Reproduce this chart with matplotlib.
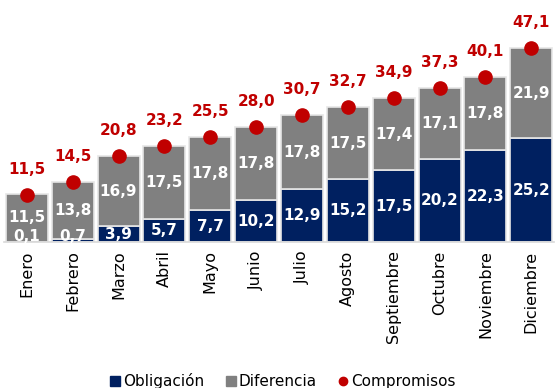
import matplotlib
matplotlib.use("Agg")
import matplotlib.pyplot as plt
from matplotlib.lines import Line2D

meses = ["Enero", "Febrero", "Marzo", "Abril", "Mayo", "Junio", "Julio",
         "Agosto", "Septiembre", "Octubre", "Noviembre", "Diciembre"]
obligacion = [0.1, 0.7, 3.9, 5.7, 7.7, 10.2, 12.9, 15.2, 17.5, 20.2, 22.3, 25.2]
diferencia = [11.5, 13.8, 16.9, 17.5, 17.8, 17.8, 17.8, 17.5, 17.4, 17.1, 17.8, 21.9]
compromisos = [11.5, 14.5, 20.8, 23.2, 25.5, 28.0, 30.7, 32.7, 34.9, 37.3, 40.1, 47.1]

NAVY = "#002060"
GRAY = "#808080"
RED = "#C00000"
EDGE = "#E6E6E6"

plt.rcParams["font.family"] = ["DejaVu Sans"]

fig = plt.figure(figsize=(5.57, 3.88), dpi=100)
ax = fig.add_axes([0.007, 0.376, 0.988, 0.624])

x = list(range(len(meses)))
w = 0.915

ax.bar(x, obligacion, width=w, color=NAVY, edgecolor=EDGE, linewidth=1.2, zorder=2)
ax.bar(x, diferencia, width=w, bottom=obligacion, color=GRAY, edgecolor=EDGE,
       linewidth=1.2, zorder=2)
ax.plot(x, compromisos, linestyle="none", marker="o", markersize=9.5,
        color=RED, zorder=4)

def fmt(v):
    return f"{v:.1f}".replace(".", ",")

for i in x:
    o, d, c = obligacion[i], diferencia[i], compromisos[i]
    ax.text(i, max(o / 2, 1.4), fmt(o), ha="center", va="center",
            color="white", fontsize=11, fontweight="bold", zorder=5)
    ax.text(i, o + d / 2, fmt(d), ha="center", va="center",
            color="white", fontsize=11, fontweight="bold", zorder=5)
    ax.text(i, c + 6.2, fmt(c), ha="center", va="center",
            color=RED, fontsize=11, fontweight="bold", zorder=5)

ax.set_xlim(-0.5, len(meses) - 0.5)
ax.set_ylim(0, 58.7)
ax.set_yticks([])
ax.set_xticks(x)
ax.set_xticklabels(meses, rotation=90, fontsize=11.5)
ax.tick_params(axis="x", length=0, pad=6)
for s in ["top", "right", "left"]:
    ax.spines[s].set_visible(False)
ax.spines["bottom"].set_color("#D9D9D9")
ax.spines["bottom"].set_linewidth(1.2)

handles = [
    Line2D([], [], linestyle="none", marker="s", markersize=7.5, color=NAVY),
    Line2D([], [], linestyle="none", marker="s", markersize=7.5, color=GRAY),
    Line2D([], [], linestyle="none", marker="o", markersize=6, color=RED),
]
fig.legend(handles, ["Obligación", "Diferencia", "Compromisos"],
           loc="center", bbox_to_anchor=(0.507, 0.017), ncol=3, frameon=False,
           fontsize=11, handlelength=0.8, handletextpad=0.15, columnspacing=1.3)

fig.savefig("out.png", dpi=100)
